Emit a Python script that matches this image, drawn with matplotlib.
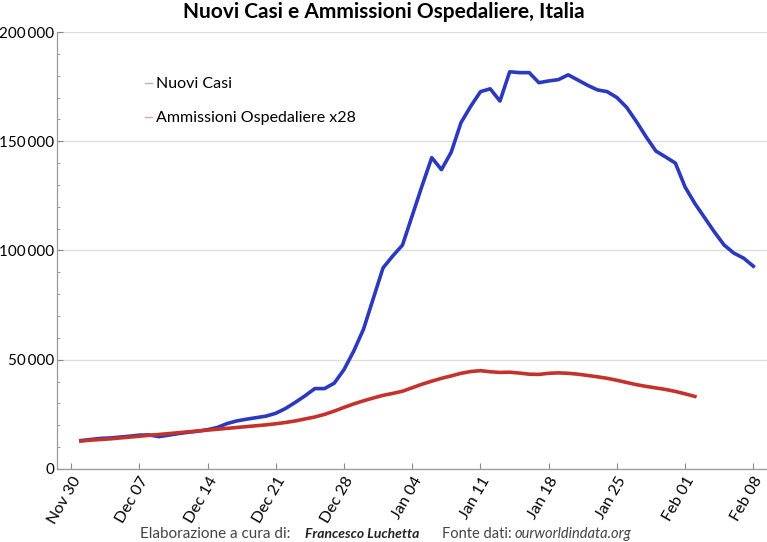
import matplotlib
matplotlib.use("Agg")
import matplotlib.pyplot as plt
import matplotlib.dates as mdates
import matplotlib.ticker as mticker
import pandas as pd

plt.rcParams['font.family'] = ['Lato', 'DejaVu Sans']

# Nuovi casi (media mobile), 1 dic - 8 feb
nuovi_casi = [13000, 13500, 14000, 14200, 14600, 15000, 15500, 15600, 14800, 15500,
              16200, 16800, 17300, 18000, 19000, 20800, 22000, 22800, 23500, 24200,
              25500, 27700, 30500, 33500, 36800, 36800, 39300, 45500, 54000, 64000,
              78000, 92000, 97500, 102500, 116000, 129500, 142500, 137000, 145000, 158500,
              166000, 172700, 174000, 168400, 181800, 181400, 181400, 176800, 177600, 178200,
              180400, 178000, 175600, 173500, 172700, 170000, 165500, 159000, 152000, 145500,
              142800, 140000, 129000, 121500, 115000, 108500, 102500, 98800, 96500, 92800]

# Ammissioni ospedaliere x28, 1 dic - 2 feb
ammissioni = [12800, 13200, 13500, 13800, 14200, 14600, 15000, 15400, 15800, 16200,
              16600, 17000, 17400, 17800, 18200, 18600, 19000, 19400, 19800, 20200,
              20700, 21300, 22000, 22900, 23800, 25000, 26500, 28200, 29800, 31200,
              32500, 33700, 34600, 35600, 37200, 38800, 40200, 41500, 42600, 43800,
              44600, 45000, 44500, 44200, 44300, 43900, 43400, 43300, 43800, 44000,
              43800, 43400, 42800, 42200, 41500, 40600, 39600, 38600, 37800, 37100,
              36400, 35500, 34400, 33200]

date_casi = pd.date_range("2020-12-01", periods=len(nuovi_casi), freq="D")
date_amm = pd.date_range("2020-12-01", periods=len(ammissioni), freq="D")

fig = plt.figure(figsize=(7.67, 5.42), dpi=100)
ax = fig.add_axes([57 / 767, 1 - 469 / 542, 710 / 767, 437 / 542])

ax.plot(date_casi, nuovi_casi, color='#2a39bd', lw=2.6, label='_casi')
ax.plot(date_amm, ammissioni, color='#c4322c', lw=2.6, label='_amm')

ax.set_xlim(pd.Timestamp("2020-11-30") - pd.Timedelta(days=1.45),
            pd.Timestamp("2020-11-30") + pd.Timedelta(days=71.4))
ax.set_ylim(0, 200000)

ax.xaxis.set_major_locator(mdates.WeekdayLocator(byweekday=mdates.MO))
ax.xaxis.set_major_formatter(mdates.DateFormatter('%b %d'))
ax.yaxis.set_major_locator(mticker.MultipleLocator(50000))
ax.yaxis.set_minor_locator(mticker.MultipleLocator(10000))
ax.yaxis.set_major_formatter(mticker.FuncFormatter(
    lambda v, p: f"{int(v):,}".replace(",", "\u2009")))

ax.tick_params(axis='both', direction='in', length=4, width=0.8, color='#888888',
               labelcolor='black')
ax.tick_params(axis='x', labelsize=11.5, pad=4)
ax.tick_params(axis='y', labelsize=11, pad=2)
ax.tick_params(axis='y', which='minor', direction='in', length=2, color='#888888')
ax.tick_params(axis='x', which='minor', length=0)

for lab in ax.get_xticklabels():
    lab.set_rotation(60)
    lab.set_ha('right')
    lab.set_rotation_mode('anchor')

ax.grid(axis='y', color='#dddddd', lw=1)
ax.set_axisbelow(True)
for s in ['top', 'right']:
    ax.spines[s].set_visible(False)
for s in ['left', 'bottom']:
    ax.spines[s].set_color('#999999')
    ax.spines[s].set_linewidth(0.9)

# legenda con trattini corti come nell'originale
h1, = ax.plot([], [], color='#b0b3cc', lw=1)
h2, = ax.plot([], [], color='#d9a8b0', lw=1)
ax.legend([h1, h2], ['Nuovi Casi', 'Ammissioni Ospedaliere x28'], loc='upper left',
          bbox_to_anchor=(0.112, 0.915), frameon=False, fontsize=11.5,
          handlelength=0.5, handletextpad=0.2, labelspacing=1.25, borderpad=0)

fig.text(0.5, 1 - 12 / 542, 'Nuovi Casi e Ammissioni Ospedaliere, Italia',
         ha='center', va='center', fontsize=15, fontweight='bold')

fy = 1 - 534 / 542
fig.text(140 / 767, fy, 'Elaborazione a cura di:', ha='left', va='center',
         fontsize=11, color='#444444')
fig.text(305 / 767, fy, 'Francesco Luchetta', ha='left', va='center',
         fontsize=10, color='#222222', fontweight='bold', style='italic')
fig.text(442 / 767, fy, 'Fonte dati:', ha='left', va='center',
         fontsize=10.5, color='#444444')
fig.text(515 / 767, fy, 'ourworldindata.org', ha='left', va='center',
         fontsize=10.5, color='#444444', style='italic')

fig.savefig("out.png", dpi=100)
